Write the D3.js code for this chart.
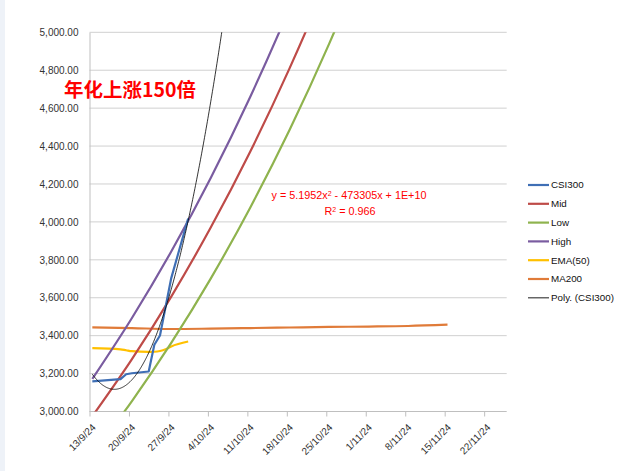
<!DOCTYPE html>
<html><head><meta charset="utf-8">
<script src="https://cdn.jsdelivr.net/npm/d3@7/dist/d3.min.js"></script>
<style>
html,body{margin:0;padding:0;background:#fff;}
svg{display:block;}
</style></head>
<body><svg id="c" width="642" height="471"></svg>
<script>
// ---- data ----
const csiDates = ["2024-09-13","2024-09-18","2024-09-19","2024-09-20","2024-09-23","2024-09-24","2024-09-25","2024-09-26","2024-09-27","2024-09-30"];
const csiValues = [3159.25,3171.03,3196.37,3201.61,3211.04,3351.92,3400.98,3552.42,3703.68,4017.85];
const emaValues = [3334,3328,3323,3318,3314,3315,3319,3328,3343,3369];

const bandDates = ["2024-09-13","2024-09-20","2024-09-27","2024-10-04","2024-10-11","2024-10-18","2024-10-25","2024-11-01"];
const midValues  = [2975,3275,3606,3970,4370,4811,5296,5830];
const lowValues  = [2774,3054,3362,3701,4075,4486,4939,5437];
const highValues = [3172,3492,3844,4232,4659,5129,5647,6216];

const maDates = ["2024-09-13","2024-09-20","2024-09-27","2024-10-04","2024-10-11","2024-10-18","2024-10-25","2024-11-01","2024-11-08","2024-11-15"];
const maValues = [3444,3440,3435,3437,3440,3443,3446,3448,3451,3458];

const xTickLabels = ["13/9/24","20/9/24","27/9/24","4/10/24","11/10/24","18/10/24","25/10/24","1/11/24","8/11/24","15/11/24","22/11/24"];
const yTicks = [3000,3200,3400,3600,3800,4000,4200,4400,4600,4800,5000];

const seriesNames = ["CSI300","Mid","Low","High","EMA(50)","MA200","Poly. (CSI300)"];
const seriesColors = ["#3f6fb5","#be4b48","#8fb34e","#7a5ca0","#ffc000","#e07b39","#404040"];
const annotation = "年化上涨150倍";
const eqLine1 = "y = 5.1952x";
const eqLine1b = " - 473305x + 1E+10";
const eqLine2 = "R";
const eqLine2b = " = 0.966";

// ---- setup ----
const svg = d3.select("#c");
svg.append("rect").attr("x",0).attr("y",0).attr("width",5).attr("height",471).attr("fill","#eef2f8");

const L = 89.5, R = 506.7, T = 32.3, B = 411.5;
const day = 864e5;
const parse = s => new Date(s + "T12:00:00Z");
const x = d3.scaleUtc().domain([new Date("2024-09-13T00:00:00Z"), new Date("2024-11-26T00:00:00Z")]).range([L, R]);
const y = d3.scaleLinear().domain([3000,5000]).range([B, T]);

svg.append("defs").append("clipPath").attr("id","clip")
  .append("rect").attr("x",L).attr("y",T).attr("width",R-L).attr("height",B-T);

// gridlines
svg.append("g").selectAll("line").data(yTicks.slice(1)).join("line")
  .attr("x1",L).attr("x2",R).attr("y1",d=>y(d)).attr("y2",d=>y(d))
  .attr("stroke","#d0d0d0").attr("stroke-width",1);

// y axis
const yAxis = d3.axisLeft(y).tickValues(yTicks).tickSize(0).tickPadding(11)
  .tickFormat(d => d3.format(",.2f")(d));
const yg = svg.append("g").attr("transform",`translate(${L},0)`).call(yAxis);
yg.select(".domain").attr("stroke","#bfbfbf");
yg.selectAll("text").attr("font-family","Liberation Sans, Arial, sans-serif").attr("font-size","10px").attr("fill","#333");

// x axis
const tickDates = xTickLabels.map((_,i)=> new Date(new Date("2024-09-13T00:00:00Z").getTime() + i*7*day));
const xAxis = d3.axisBottom(x).tickValues(tickDates).tickSize(5).tickFormat((d,i)=>xTickLabels[i]);
const xg = svg.append("g").attr("transform",`translate(0,${B})`).call(xAxis);
xg.select(".domain").attr("stroke","#bfbfbf").attr("d",`M${L},0H${R}`);
xg.selectAll(".tick line").attr("stroke","#bfbfbf");
xg.selectAll("text")
  .attr("font-family","Liberation Sans, Arial, sans-serif").attr("font-size","10px").attr("fill","#333")
  .attr("text-anchor","end").attr("dy","0.35em").attr("y",0)
  .attr("transform","translate(4,14) rotate(-45)");

// lines
const plot = svg.append("g").attr("clip-path","url(#clip)");
const line = d3.line().x(d=>x(d[0])).y(d=>y(d[1]));
const smooth = d3.line().x(d=>x(d[0])).y(d=>y(d[1])).curve(d3.curveMonotoneX);
function pts(dates, vals){ return dates.map((d,i)=>[parse(d), vals[i]]); }

plot.append("path").datum(pts(maDates,maValues)).attr("d",smooth).attr("fill","none").attr("stroke",seriesColors[5]).attr("stroke-width",2.2);
plot.append("path").datum(pts(csiDates,emaValues)).attr("d",smooth).attr("fill","none").attr("stroke",seriesColors[4]).attr("stroke-width",2.2);
plot.append("path").datum(pts(bandDates,lowValues)).attr("d",smooth).attr("fill","none").attr("stroke",seriesColors[2]).attr("stroke-width",2.2);
plot.append("path").datum(pts(bandDates,midValues)).attr("d",smooth).attr("fill","none").attr("stroke",seriesColors[1]).attr("stroke-width",2.2);
plot.append("path").datum(pts(bandDates,highValues)).attr("d",smooth).attr("fill","none").attr("stroke",seriesColors[3]).attr("stroke-width",2.2);
plot.append("path").datum(pts(csiDates,csiValues)).attr("d",line).attr("fill","none").attr("stroke",seriesColors[0]).attr("stroke-width",2.2).attr("stroke-linejoin","round");

// polynomial trendline: least squares fit of CSI300 (order 2), like the spreadsheet
const t0 = parse(csiDates[0]).getTime();
const ts = csiDates.map(d => (parse(d).getTime()-t0)/day);
function polyfit2(xs, ys){
  let S=[0,0,0,0,0], Sy=[0,0,0];
  xs.forEach((xv,i)=>{ for(let k=0;k<5;k++) S[k]+=Math.pow(xv,k); for(let k=0;k<3;k++) Sy[k]+=ys[i]*Math.pow(xv,k); });
  const A=[[S[0],S[1],S[2],Sy[0]],[S[1],S[2],S[3],Sy[1]],[S[2],S[3],S[4],Sy[2]]];
  for(let i=0;i<3;i++){ let p=A[i][i]; for(let j=i;j<4;j++) A[i][j]/=p;
    for(let r=0;r<3;r++) if(r!==i){ const f=A[r][i]; for(let j=i;j<4;j++) A[r][j]-=f*A[i][j]; } }
  return [A[0][3],A[1][3],A[2][3]];
}
const cf = polyfit2(ts, csiValues);
const trend = d3.range(0, 30.01, 0.1).map(t => [new Date(t0 + t*day), cf[0]+cf[1]*t+cf[2]*t*t]);
plot.append("path").datum(trend).attr("d",line).attr("fill","none").attr("stroke","#000").attr("stroke-width",0.8);

// annotation
svg.append("text").attr("x",64).attr("y",97).text(annotation)
  .attr("font-family","Noto Sans CJK SC, sans-serif").attr("font-weight","bold").attr("font-size","19.5px").attr("fill","#ff0000");

// equation
const eq = svg.append("g").attr("font-family","Liberation Sans, Arial, sans-serif").attr("font-size","10.8px").attr("fill","#ff0000");
const t1 = eq.append("text").attr("x",349).attr("y",199).attr("text-anchor","middle");
t1.append("tspan").text(eqLine1);
t1.append("tspan").text("2").attr("baseline-shift","super").attr("font-size","7px");
t1.append("tspan").text(eqLine1b);
const t2 = eq.append("text").attr("x",350).attr("y",215).attr("text-anchor","middle");
t2.append("tspan").text(eqLine2);
t2.append("tspan").text("2").attr("baseline-shift","super").attr("font-size","7px");
t2.append("tspan").text(eqLine2b);

// legend
const lg = svg.append("g").attr("transform","translate(528,185)");
seriesNames.forEach((n,i)=>{
  const g = lg.append("g").attr("transform",`translate(0,${i*18.8})`);
  g.append("line").attr("x1",0).attr("x2",21).attr("y1",0).attr("y2",0)
    .attr("stroke",seriesColors[i]).attr("stroke-width", i===6?1.2:2.2);
  g.append("text").attr("x",23).attr("y",0).attr("dy","0.35em").text(n)
    .attr("font-family","Liberation Sans, Arial, sans-serif").attr("font-size","9.8px").attr("fill","#111");
});
</script></body></html>
